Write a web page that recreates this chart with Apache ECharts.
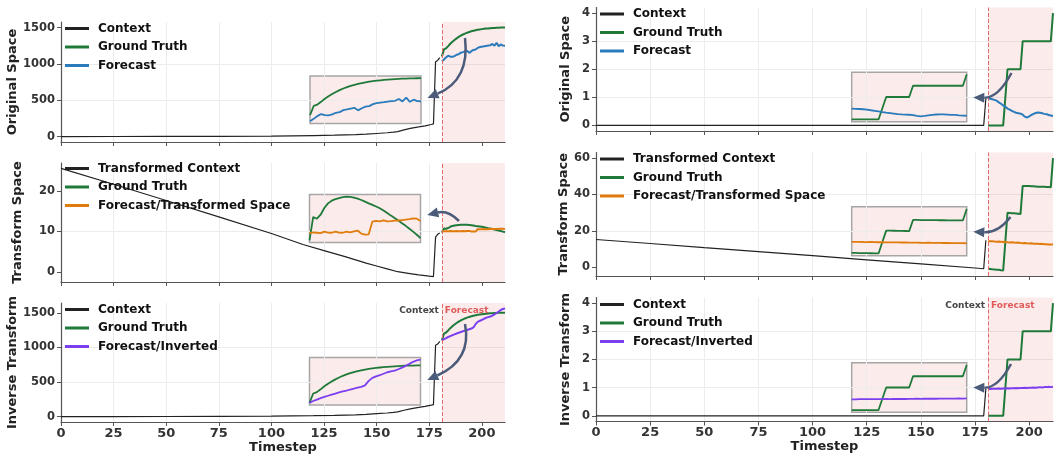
<!DOCTYPE html>
<html>
<head>
<meta charset="utf-8">
<script src="https://cdn.jsdelivr.net/npm/echarts@6/dist/echarts.min.js"></script>
<style>
  html, body { margin: 0; padding: 0; background: #fff; }
  #chart { width: 1061px; height: 466px; }
</style>
</head>
<body>
<div id="chart"></div>
<script>
// ---- values ----
const xTicks = [0, 25, 50, 75, 100, 125, 150, 175, 200]
const forecastX = [181, 182, 183, 184, 185, 186, 187, 188, 189, 190, 191, 192, 193, 194, 195, 196,
  197, 198, 199, 200, 201, 202, 203, 204, 205, 206, 207, 208, 209, 210, 211]

// left column: context (original + inverse rows share it)
const leftCtxX = [0, 25, 50, 75, 100, 110, 120, 130, 140, 145, 150, 155, 158, 160, 163, 166, 170, 173, 176, 177, 178, 179, 180]
const leftCtxY = [0, 0.6, 1.6, 3.2, 7, 10, 14, 19, 26, 32, 42, 52, 60, 68, 92, 112, 132, 148, 166, 174, 1030, 1048, 1085]
// left column: transformed context
const leftTrX = [0, 25, 50, 75, 100, 115, 125, 135, 145, 150, 155, 160, 165, 170, 175, 177, 178, 179, 180]
const leftTrY = [25.5, 21.6, 17.6, 13.6, 9.5, 6.8, 5.3, 3.8, 2.2, 1.5, 0.8, 0.1, -0.3, -0.7, -1.0, -1.1, 8.6, 9.3, 9.6]

const leftGtOrig = [1100, 1200, 1215, 1245, 1278, 1305, 1330, 1352, 1372, 1390, 1405, 1418, 1430, 1440, 1449, 1457,
  1464, 1470, 1475, 1479, 1483, 1486, 1489, 1492, 1494, 1496, 1498, 1499, 1500, 1501, 1502]
const leftFcOrig = [1033, 1060, 1090, 1112, 1100, 1098, 1108, 1126, 1132, 1155, 1162, 1172, 1180, 1152, 1175, 1192,
  1198, 1220, 1232, 1237, 1242, 1248, 1252, 1256, 1275, 1250, 1290, 1245, 1268, 1252, 1251]
const leftGtTr = [9.7, 10.75, 10.67, 10.85, 11.15, 11.36, 11.48, 11.55, 11.6, 11.64, 11.66, 11.65, 11.62, 11.57, 11.51, 11.44,
  11.36, 11.29, 11.22, 11.14, 11.04, 10.93, 10.81, 10.7, 10.59, 10.47, 10.35, 10.22, 10.09, 9.95, 9.8]
const leftFcTr = [10.02, 10.06, 10.04, 10.02, 10.09, 10.05, 10.04, 10.09, 10.05, 10.04, 10.09, 10.06, 10.1, 10.14, 10.0, 9.96,
  9.97, 10.54, 10.57, 10.55, 10.6, 10.55, 10.56, 10.58, 10.59, 10.61, 10.63, 10.65, 10.69, 10.67, 10.57]
const leftFcInv = [1100, 1120, 1135, 1150, 1163, 1176, 1188, 1200, 1212, 1222, 1232, 1243, 1252, 1262, 1272, 1288,
  1335, 1368, 1384, 1396, 1412, 1428, 1437, 1445, 1460, 1478, 1497, 1518, 1540, 1555, 1563]

// right column
const rightCtxX = [0, 179, 180]
const rightCtxY = [0, 0, 0.96]
const rightTrX = [0, 25, 50, 75, 100, 125, 150, 175, 179, 180]
const rightTrY = [15.2, 13.0, 10.7, 8.5, 6.3, 4.0, 1.8, -0.5, -0.9, 14.8]

const rightGtOrig = [0, 0, 0, 0, 0, 0, 0, 0, 1, 2, 2, 2, 2, 2, 2, 2,
  3, 3, 3, 3, 3, 3, 3, 3, 3, 3, 3, 3, 3, 3, 4]
const rightFcOrig = [0.96, 0.95, 0.93, 0.91, 0.88, 0.82, 0.77, 0.71, 0.66, 0.6, 0.56, 0.52, 0.48, 0.45, 0.43, 0.42,
  0.38, 0.31, 0.28, 0.32, 0.37, 0.41, 0.44, 0.46, 0.45, 0.43, 0.41, 0.4, 0.37, 0.35, 0.33]
const rightGtTr = [-0.9, -1.0, -1.2, -1.3, -1.4, -1.5, -1.7, -1.8, 14.0, 29.9, 29.8, 29.7, 29.6, 29.5, 29.4, 29.2,
  44.7, 44.7, 44.6, 44.6, 44.5, 44.5, 44.4, 44.3, 44.3, 44.2, 44.2, 44.1, 44.1, 44.0, 60.0]
const rightFcTr = [14.3, 14.2, 14.3, 14.1, 14.0, 14.1, 13.9, 13.8, 13.9, 13.7, 13.6, 13.7, 13.5, 13.4, 13.5, 13.3,
  13.2, 13.3, 13.1, 13.0, 13.1, 12.9, 12.9, 12.8, 12.7, 12.8, 12.6, 12.6, 12.5, 12.5, 12.4]
const rightFcInv = [0.95, 0.95, 0.96, 0.96, 0.96, 0.97, 0.96, 0.97, 0.97, 0.98, 0.97, 0.98, 0.98, 0.99, 0.98, 0.99,
  0.99, 1.0, 0.99, 1.0, 1.0, 1.01, 1.0, 1.01, 1.02, 1.01, 1.02, 1.02, 1.03, 1.02, 1.03]

const yTicksOrigL = [0, 500, 1000, 1500]
const yTicksTrL = [0, 10, 20]
const yTicksOrigR = [0, 1, 2, 3, 4]
const yTicksTrR = [0, 20, 40, 60]

// ---- styling ----
const FONT = 'DejaVu Sans'
const BLACK = '#222222'
const GREEN = '#1f7a3a'
const BLUE = '#2a7bbb'
const ORANGE = '#e07c0c'
const PURPLE = '#7b3ff0'
const ARROW = '#4b5b7a'
const SHADE = 'rgba(232, 70, 70, 0.11)'

const panels = [
  { grid: { left: 61, top: 22, width: 444, height: 120 }, inset: { left: 310, top: 76, width: 111, height: 47.5 },
    yName: 'Original Space', nameGap: 37, step: 500, yTicks: yTicksOrigL,
    names: ['Context', 'Ground Truth', 'Forecast'], fcColor: BLUE,
    ctxX: leftCtxX, ctxY: leftCtxY, gt: leftGtOrig, fc: leftFcOrig,
    legend: { left: 65, top: 21.5 }, arrow: [[465, 38], [470, 80], [427.5, 98]] },
  { grid: { left: 61, top: 163, width: 444, height: 119 }, inset: { left: 309.5, top: 194.5, width: 111, height: 48 },
    yName: 'Transform Space', nameGap: 37, step: 10, yTicks: yTicksTrL,
    names: ['Transformed Context', 'Ground Truth', 'Forecast/Transformed Space'], fcColor: ORANGE,
    ctxX: leftTrX, ctxY: leftTrY, gt: leftGtTr, fc: leftFcTr,
    legend: { left: 65, top: 161.5 }, arrow: [[459, 221], [448, 210], [427.3, 215]] },
  { grid: { left: 61, top: 303, width: 444, height: 119 }, inset: { left: 309.5, top: 357.5, width: 111, height: 47.5 },
    yName: 'Inverse Transform', nameGap: 37, step: 500, yTicks: yTicksOrigL,
    names: ['Context', 'Ground Truth', 'Forecast/Inverted'], fcColor: PURPLE,
    ctxX: leftCtxX, ctxY: leftCtxY, gt: leftGtOrig, fc: leftFcInv,
    legend: { left: 65, top: 302.5 }, arrow: [[465, 324], [472, 360], [427.3, 380]], bottom: true },
  { grid: { left: 596, top: 7.5, width: 457, height: 123.5 }, inset: { left: 851.7, top: 72.3, width: 115, height: 49.4 },
    yName: 'Original Space', nameGap: 24, step: 1, yTicks: yTicksOrigR,
    names: ['Context', 'Ground Truth', 'Forecast'], fcColor: BLUE,
    ctxX: rightCtxX, ctxY: rightCtxY, gt: rightGtOrig, fc: rightFcOrig,
    legend: { left: 600, top: 7 }, arrow: [[1011.5, 73], [998, 98], [973.3, 97.5]] },
  { grid: { left: 596, top: 152.5, width: 457, height: 123.5 }, inset: { left: 851.7, top: 206.7, width: 115, height: 49 },
    yName: 'Transform Space', nameGap: 24, step: 20, yTicks: yTicksTrR,
    names: ['Transformed Context', 'Ground Truth', 'Forecast/Transformed Space'], fcColor: ORANGE,
    ctxX: rightTrX, ctxY: rightTrY, gt: rightGtTr, fc: rightFcTr,
    legend: { left: 600, top: 152 }, arrow: [[1010.5, 217], [998, 233], [973.3, 231.7]] },
  { grid: { left: 596, top: 297.5, width: 457, height: 124 }, inset: { left: 851.7, top: 362.7, width: 115, height: 49.6 },
    yName: 'Inverse Transform', nameGap: 24, step: 1, yTicks: yTicksOrigR,
    names: ['Context', 'Ground Truth', 'Forecast/Inverted'], fcColor: PURPLE,
    ctxX: rightCtxX, ctxY: rightCtxY, gt: rightGtOrig, fc: rightFcInv,
    legend: { left: 600, top: 297.5 }, arrow: [[1011, 364], [998, 388], [973.3, 387.5]], bottom: true }
]

const pad = v => 0.05 * (v.max - v.min)
const plain = v => String(v)
const xTickFont = { fontFamily: FONT, fontSize: 13, fontWeight: 'bold', color: '#333', formatter: plain }
const yTickFont = { fontFamily: FONT, fontSize: 11.5, fontWeight: 'bold', color: '#333', formatter: plain }
const axisLine = { show: true, onZero: false, lineStyle: { color: '#555', width: 1.2 } }
const gridLine = { show: true, showMinLine: false, showMaxLine: false, lineStyle: { color: '#ececec', width: 1 } }

function pairs(xs, ys) {
  return xs.map((x, i) => [x, ys[i]])
}

function line(name, data, color, width, axis, extra) {
  return Object.assign({
    name, type: 'line', xAxisIndex: axis, yAxisIndex: axis, data,
    symbol: 'none', showSymbol: false,
    lineStyle: { color, width }, itemStyle: { color }
  }, extra || {})
}

const grids = []
const xAxes = []
const yAxes = []
const series = []
const legends = []
const n = panels.length

panels.forEach((p, i) => {
  grids[i] = Object.assign({ show: false, outerBoundsMode: 'none', containLabel: false }, p.grid)
  grids[i + n] = Object.assign({
    show: true, outerBoundsMode: 'none', containLabel: false,
    backgroundColor: '#fcebeb', borderColor: '#a6a6a6', borderWidth: 1.5
  }, p.inset)

  xAxes[i] = {
    type: 'value', gridIndex: i, min: 0, max: 211, interval: 25,
    axisLine, axisTick: { show: true, length: 4, customValues: xTicks, lineStyle: { color: '#555' } },
    axisLabel: Object.assign({ show: !!p.bottom, margin: 5, customValues: xTicks }, xTickFont),
    splitLine: gridLine,
    name: p.bottom ? 'Timestep' : '', nameLocation: 'middle', nameGap: 19,
    nameTextStyle: { fontFamily: FONT, fontSize: 13, fontWeight: 'bold', color: '#222' }
  }
  yAxes[i] = {
    type: 'value', gridIndex: i,
    min: v => v.min - pad(v), max: v => v.max + pad(v),
    minInterval: p.step, maxInterval: p.step,
    axisLine, axisTick: { show: true, length: 4, customValues: p.yTicks, lineStyle: { color: '#555' } },
    axisLabel: Object.assign({ margin: 6, customValues: p.yTicks }, yTickFont),
    splitLine: gridLine,
    name: p.yName, nameLocation: 'middle', nameGap: p.nameGap, nameRotate: 90,
    nameTextStyle: { fontFamily: FONT, fontSize: 13, fontWeight: 'bold', color: '#222' }
  }
  xAxes[i + n] = { type: 'value', gridIndex: i + n, min: forecastX[0], max: forecastX[forecastX.length - 1], show: false }
  yAxes[i + n] = { type: 'value', gridIndex: i + n, min: v => v.min - pad(v), max: v => v.max + pad(v), show: false }

  const fcStart = forecastX[0]
  series.push(line(p.names[0], pairs(p.ctxX, p.ctxY), BLACK, 1.2, i, {
    markArea: {
      silent: true, itemStyle: { color: SHADE }, label: { show: false },
      data: [[{ xAxis: fcStart }, { xAxis: forecastX[forecastX.length - 1] }]]
    },
    markLine: {
      silent: true, symbol: ['none', 'none'], label: { show: false },
      lineStyle: { color: '#e26a6a', width: 1, type: [4, 2] },
      data: [{ xAxis: fcStart }]
    }
  }))
  series.push(line(p.names[1], pairs(forecastX, p.gt), GREEN, 2, i))
  series.push(line(p.names[2], pairs(forecastX, p.fc), p.fcColor, 2, i))
  series.push(line(p.names[1], pairs(forecastX, p.gt), GREEN, 1.8, i + n))
  series.push(line(p.names[2], pairs(forecastX, p.fc), p.fcColor, 1.8, i + n))

  legends.push({
    data: p.names, left: p.legend.left, top: p.legend.top, orient: 'vertical',
    padding: 0, itemGap: 4.5, itemWidth: 24, itemHeight: 3, icon: 'rect', selectedMode: false,
    textStyle: { fontFamily: FONT, fontSize: 12, fontWeight: 'bold', color: '#111', lineHeight: 14, padding: [0, 0, 0, 4] }
  })
})

const chart = echarts.init(document.getElementById('chart'))
chart.setOption({
  animation: false,
  backgroundColor: '#fff',
  grid: grids,
  xAxis: xAxes,
  yAxis: yAxes,
  legend: legends,
  series
})

// curved arrows from the forecast window to the zoomed inset
function arrow(s, c, t) {
  const dx = t[0] - c[0], dy = t[1] - c[1]
  const len = Math.hypot(dx, dy)
  const ux = dx / len, uy = dy / len
  const hl = 11, hw = 5
  const b = [t[0] - ux * hl, t[1] - uy * hl]
  return [
    { type: 'bezierCurve', z: 100, silent: true,
      shape: { x1: s[0], y1: s[1], x2: b[0], y2: b[1], cpx1: c[0], cpy1: c[1] },
      style: { stroke: ARROW, lineWidth: 2.5, fill: 'none' } },
    { type: 'polygon', z: 100, silent: true,
      shape: { points: [t, [b[0] - uy * hw, b[1] + ux * hw], [b[0] + uy * hw, b[1] - ux * hw]] },
      style: { fill: ARROW } }
  ]
}

const graphics = []
panels.forEach((p, i) => {
  graphics.push(...arrow(p.arrow[0], p.arrow[1], p.arrow[2]))
  if (p.bottom) {
    const x = chart.convertToPixel({ xAxisIndex: i }, forecastX[0])
    const y = p.grid.top + 8
    graphics.push({ type: 'text', x: x - 3, y, z: 100, silent: true,
      style: { text: 'Context', align: 'right', verticalAlign: 'middle', font: 'bold 9px "DejaVu Sans"', fill: '#444' } })
    graphics.push({ type: 'text', x: x + 3, y, z: 100, silent: true,
      style: { text: 'Forecast', align: 'left', verticalAlign: 'middle', font: 'bold 9px "DejaVu Sans"', fill: '#e05a5a' } })
  }
})
chart.setOption({ graphic: graphics })
</script>
</body>
</html>
